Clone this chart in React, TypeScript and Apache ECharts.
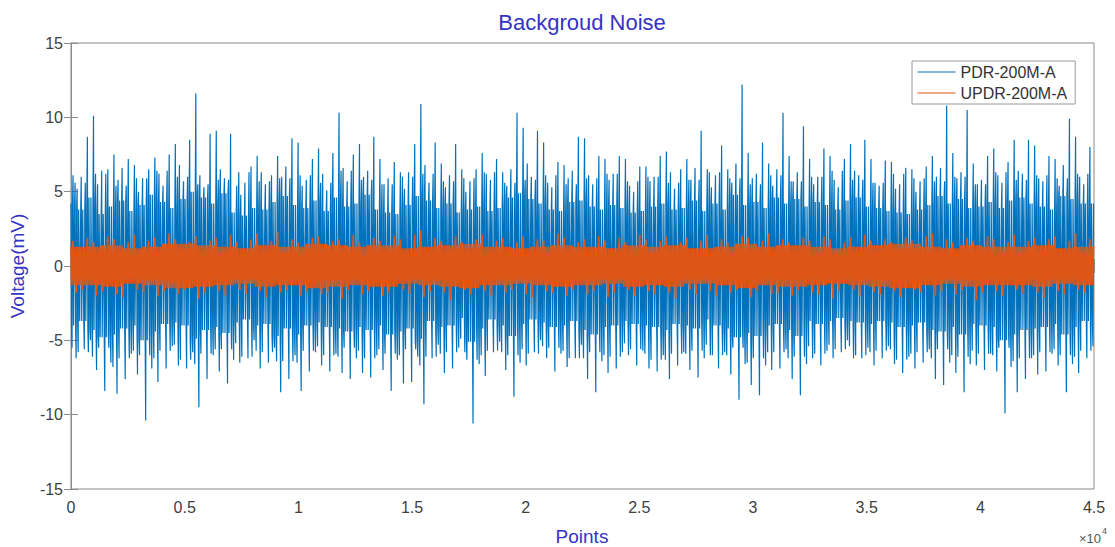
import React, { useEffect, useRef } from 'react';
import * as echarts from 'echarts';

// ---- values (x in points, y in mV) ----
const STEP = 450; // points covered by one reading
const X_MAX = 45000;

// biggest upward spike of PDR-200M-A in each 450-point slice
const blueHi = [
  6.1, 8.7, 10.1, 6.5, 7.5, 7.2, 6.8, 6.5, 7.3, 7.5,
  8.2, 8.5, 11.6, 8.9, 9.1, 8.9, 5.4, 6.7, 7.4, 6.1,
  7.4, 8.6, 8.3, 7.2, 7.9, 7.6, 10.3, 7.5, 8.2, 8.7,
  7.2, 7.0, 6.3, 8.2, 10.9, 8.3, 6.9, 8.2, 6.5, 6.5,
  7.6, 7.2, 6.3, 10.3, 9.3, 9.1, 8.3, 7.0, 6.8, 8.7,
  8.6, 7.4, 7.2, 7.4, 7.2, 6.7, 6.7, 7.4, 7.7, 6.5,
  7.2, 9.1, 6.5, 8.1, 6.5, 12.2, 7.6, 8.3, 6.9, 10.3,
  7.4, 9.4, 7.2, 7.9, 7.4, 7.2, 8.2, 8.5, 7.2, 7.1,
  7.0, 6.6, 6.5, 6.7, 7.4, 10.8, 7.6, 10.5, 6.9, 7.4,
  7.9, 7.0, 8.5, 8.5, 8.1, 7.4, 7.2, 9.9, 8.7, 8.0,
];
// deepest downward spike of PDR-200M-A in each 450-point slice
const blueLo = [
  -6.2, -5.6, -7.0, -8.4, -8.6, -7.6, -7.3, -10.4, -7.8, -6.9,
  -6.7, -6.9, -9.5, -7.6, -7.1, -7.9, -6.5, -6.2, -6.9, -6.5,
  -8.5, -7.6, -8.4, -7.1, -6.7, -7.1, -7.2, -7.6, -7.2, -7.5,
  -7.0, -8.4, -7.9, -7.8, -9.3, -6.2, -7.2, -6.9, -5.8, -10.6,
  -7.4, -5.8, -7.0, -8.8, -6.7, -5.8, -6.2, -7.1, -6.8, -6.2,
  -7.6, -8.5, -7.2, -6.9, -6.0, -6.7, -6.9, -7.1, -7.6, -6.7,
  -7.0, -7.5, -6.0, -6.9, -7.3, -9.0, -8.0, -8.7, -7.0, -6.9,
  -7.6, -8.7, -6.2, -6.7, -6.2, -5.8, -6.2, -6.2, -6.7, -6.2,
  -6.6, -7.2, -6.9, -6.5, -7.6, -8.0, -7.2, -8.5, -6.7, -7.0,
  -7.1, -9.9, -8.5, -7.6, -7.3, -7.1, -6.7, -8.5, -7.2, -6.2,
];
// second-highest / second-deepest peaks in each 450-point slice
const blueHi2 = [
  5.2, 6.0, 5.5, 6.4, 5.8, 6.6, 5.0, 5.9, 6.2, 5.4,
  6.8, 5.7, 6.1, 5.3, 6.5, 5.9, 4.8, 5.6, 6.3, 5.5,
  6.0, 6.7, 5.4, 5.8, 6.2, 5.1, 6.6, 5.7, 6.0, 6.4,
  5.5, 5.9, 5.2, 6.3, 6.8, 5.6, 5.3, 6.1, 5.0, 5.7,
  6.2, 5.8, 5.4, 6.5, 6.9, 6.0, 5.6, 5.3, 5.9, 6.4,
  6.1, 5.5, 5.8, 6.2, 5.4, 5.0, 5.7, 6.0, 6.3, 5.2,
  5.8, 6.6, 5.3, 6.1, 5.6, 6.9, 5.9, 6.2, 5.4, 6.5,
  5.7, 6.3, 5.5, 6.0, 5.8, 5.3, 6.4, 6.1, 5.6, 5.4,
  5.2, 5.5, 5.0, 5.7, 6.0, 6.6, 5.9, 6.3, 5.5, 5.8,
  6.1, 5.6, 6.4, 6.2, 5.9, 5.7, 5.4, 6.8, 6.0, 5.5,
];
const blueLo2 = [
  -5.5, -5.0, -6.1, -6.5, -6.8, -5.9, -5.7, -6.9, -6.2, -5.4,
  -5.3, -5.8, -6.6, -6.0, -5.6, -6.3, -5.2, -5.0, -5.7, -5.5,
  -6.4, -6.0, -6.5, -5.8, -5.4, -5.9, -6.1, -6.2, -5.7, -6.0,
  -5.6, -6.3, -6.0, -6.1, -6.7, -5.3, -5.9, -5.5, -4.9, -6.6,
  -6.0, -5.1, -5.8, -6.5, -5.6, -5.0, -5.4, -5.9, -5.7, -5.3,
  -6.2, -6.4, -6.0, -5.8, -5.2, -5.7, -5.9, -6.0, -6.3, -5.8,
  -5.9, -6.2, -5.3, -5.8, -6.0, -6.6, -6.5, -6.7, -5.8, -5.6,
  -6.2, -6.6, -5.4, -5.7, -5.3, -5.0, -5.4, -5.5, -5.8, -5.4,
  -5.6, -6.1, -5.9, -5.6, -6.2, -6.5, -6.0, -6.6, -5.7, -5.9,
  -6.0, -6.8, -6.4, -6.2, -6.0, -5.9, -5.6, -6.6, -6.1, -5.4,
];
// upper / lower edge of the solid dark-blue band in each 450-point slice
const blueEdgeHi = [
  4.2, 3.8, 4.6, 3.5, 4.0, 4.4, 3.7, 4.1, 4.8, 4.3,
  3.9, 4.5, 5.0, 4.6, 4.2, 4.9, 3.6, 3.4, 3.9, 3.8,
  4.3, 4.7, 4.1, 3.9, 4.4, 3.7, 4.6, 4.0, 4.2, 4.8,
  3.8, 3.6, 3.5, 4.1, 4.7, 4.4, 3.9, 4.2, 3.6, 3.8,
  4.0, 3.7, 3.9, 4.6, 4.9, 4.5, 4.2, 3.8, 3.7, 4.3,
  4.4, 4.0, 3.8, 4.1, 3.9, 3.6, 3.7, 4.0, 4.2, 3.8,
  3.9, 4.4, 3.7, 4.2, 3.8, 4.8, 4.1, 4.3, 3.9, 4.6,
  4.2, 4.5, 4.0, 4.3, 4.1, 3.8, 4.4, 4.6, 4.0, 3.9,
  3.7, 3.6, 3.5, 3.8, 4.1, 4.7, 4.2, 4.5, 3.9, 4.0,
  4.3, 3.9, 4.4, 4.6, 4.2, 4.0, 3.8, 4.7, 4.5, 4.2,
];
const blueEdgeLo = [
  -4.0, -3.7, -4.3, -4.8, -4.6, -4.2, -4.0, -5.0, -4.4, -3.9,
  -3.8, -4.0, -4.9, -4.3, -4.1, -4.5, -3.8, -3.6, -4.0, -3.9,
  -4.7, -4.2, -4.6, -4.0, -3.8, -4.1, -4.2, -4.4, -4.1, -4.3,
  -4.0, -4.6, -4.4, -4.2, -4.9, -3.7, -4.1, -4.0, -3.5, -5.1,
  -4.2, -3.6, -4.0, -4.7, -3.9, -3.6, -3.8, -4.1, -4.0, -3.7,
  -4.3, -4.6, -4.1, -4.0, -3.7, -3.9, -4.0, -4.1, -4.3, -3.9,
  -4.0, -4.2, -3.6, -4.0, -4.2, -4.8, -4.5, -4.7, -4.0, -3.9,
  -4.3, -4.7, -3.7, -3.9, -3.7, -3.5, -3.7, -3.8, -3.9, -3.7,
  -3.8, -4.1, -4.0, -3.8, -4.3, -4.4, -4.1, -4.6, -3.9, -4.0,
  -4.1, -5.0, -4.6, -4.3, -4.2, -4.1, -3.9, -4.6, -4.1, -3.7,
];
// light-blue secondary peaks, one reading per 900 points
const blueMidHi = [
  5.6, 6.2, 5.4, 5.9, 6.4, 6.0, 5.5, 5.8, 6.3, 5.7,
  5.9, 6.1, 5.6, 6.4, 5.8, 5.5, 6.0, 6.2, 5.7, 5.9,
  6.3, 5.6, 5.8, 6.1, 5.5, 5.9, 6.2, 5.7, 6.0, 5.6,
  5.8, 6.3, 5.9, 5.5, 6.1, 5.7, 6.0, 6.4, 5.8, 5.6,
  6.2, 5.9, 5.7, 6.0, 5.5, 6.3, 5.8, 6.1, 5.9, 6.2,
];
const blueMidLo = [
  -5.8, -5.5, -6.2, -6.0, -5.7, -6.3, -5.9, -5.6, -6.1, -5.8,
  -6.4, -5.7, -6.0, -5.5, -6.2, -5.9, -5.6, -6.1, -5.8, -6.3,
  -5.7, -6.0, -5.9, -5.5, -6.2, -5.8, -6.1, -5.6, -6.3, -5.9,
  -5.7, -6.0, -5.5, -6.2, -5.8, -6.1, -5.9, -5.6, -6.0, -5.7,
  -6.3, -5.8, -5.6, -6.1, -5.9, -5.5, -6.2, -5.8, -6.0, -5.7,
];
// UPDR-200M-A: peaks per 450-point slice and solid core per 1000 points
const orangeHi = [
  1.7, 1.9, 1.6, 2.0, 1.8, 1.6, 2.1, 1.7, 1.9, 2.2,
  1.8, 1.6, 2.0, 1.7, 1.9, 2.1, 1.6, 1.8, 2.2, 1.7,
  2.3, 1.8, 1.6, 1.9, 2.0, 1.7, 1.8, 2.1, 1.6, 1.9,
  1.7, 2.0, 1.8, 2.1, 2.4, 1.9, 1.7, 2.0, 1.6, 1.8,
  2.1, 1.7, 1.9, 1.6, 2.0, 1.8, 1.7, 2.2, 1.9, 1.6,
  1.8, 2.0, 1.7, 1.9, 1.6, 2.1, 1.8, 1.7, 2.0, 1.6,
  1.9, 1.7, 2.1, 1.8, 1.6, 2.0, 1.9, 1.7, 2.2, 1.8,
  1.6, 1.9, 1.7, 2.0, 1.8, 1.6, 1.9, 2.1, 1.7, 1.8,
  1.6, 1.9, 1.7, 2.0, 2.2, 1.8, 1.6, 1.9, 1.7, 2.0,
  1.8, 1.6, 2.1, 1.7, 1.9, 1.8, 2.0, 1.7, 2.2, 1.8,
];
const orangeLo = [
  -1.8, -1.6, -2.0, -1.7, -1.9, -2.1, -1.6, -1.8, -2.0, -1.7,
  -1.9, -1.6, -2.2, -1.8, -1.7, -2.0, -1.6, -1.9, -1.7, -2.1,
  -1.8, -1.6, -2.0, -1.7, -1.9, -1.8, -2.2, -1.6, -1.9, -1.7,
  -2.0, -1.8, -1.6, -1.9, -2.1, -1.7, -1.8, -2.3, -1.6, -1.9,
  -1.7, -2.0, -1.8, -1.6, -1.9, -2.1, -1.7, -1.8, -2.0, -1.6,
  -1.9, -1.7, -2.1, -1.8, -1.6, -2.0, -1.7, -1.9, -1.8, -2.2,
  -1.6, -1.9, -1.7, -2.0, -1.8, -1.6, -2.1, -1.7, -1.9, -1.8,
  -2.0, -1.6, -1.8, -1.9, -2.2, -1.7, -1.6, -2.0, -1.8, -1.9,
  -1.7, -2.1, -1.6, -1.8, -2.0, -1.7, -1.9, -1.6, -2.3, -1.8,
  -1.7, -2.0, -1.6, -1.9, -1.8, -2.1, -1.7, -1.9, -1.6, -1.8,
];
const orangeCore = [
  1.3, 1.4, 1.2, 1.3, 1.5, 1.4, 1.3, 1.2, 1.4, 1.3,
  1.5, 1.4, 1.3, 1.4, 1.2, 1.3, 1.4, 1.5, 1.3, 1.2,
  1.3, 1.4, 1.3, 1.2, 1.4, 1.3, 1.4, 1.2, 1.3, 1.5,
  1.3, 1.4, 1.3, 1.2, 1.3, 1.4, 1.5, 1.3, 1.2, 1.4,
  1.3, 1.3, 1.4, 1.2, 1.3,
];

const xTickLabels = ['0', '0.5', '1', '1.5', '2', '2.5', '3', '3.5', '4', '4.5'];
const seriesNames = ['PDR-200M-A', 'UPDR-200M-A'];

const FONT = '"Liberation Sans", Arial, Helvetica, sans-serif';
const BLUE = '#0072BD';
const ORANGE = '#DE5518';
const LABEL_BLUE = '#3434c4';

function buildBlue(): number[][] {
  const out: number[][] = [];
  const n = blueHi.length;
  for (let i = 0; i < n; i++) {
    const x0 = i * STEP;
    const up = blueEdgeHi[i];
    const dn = blueEdgeLo[i];
    const upNext = blueEdgeHi[(i + 1) % n];
    const dnNext = blueEdgeLo[(i + 1) % n];
    const mh = blueMidHi[Math.floor(i / 2)];
    const ml = blueMidLo[Math.floor(i / 2)];
    const base =
      i % 2 === 0
        ? [up, blueLo2[i], blueHi[i], dn, mh, blueLo[i], blueHi2[i], ml, upNext, dnNext]
        : [blueHi2[i], dn, up, blueLo[i], mh, dn, blueHi[i], ml, upNext, blueLo2[i]];
    // after every reading, swing back to the opposite edge of the solid band
    const vals: number[] = [];
    base.forEach((v, k) => {
      vals.push(v);
      const half = k < base.length / 2;
      vals.push(v >= 0 ? (half ? dn : dnNext) : half ? up : upNext);
    });
    vals.forEach((v, k) => out.push([x0 + (k * STEP) / vals.length, v]));
  }
  out.push([X_MAX, blueEdgeHi[n - 1]]);
  return out;
}

function buildOrange(): number[][] {
  const out: number[][] = [];
  for (let i = 0; i < orangeHi.length; i++) {
    const x0 = i * STEP;
    const c = orangeCore[Math.floor(x0 / 1000)];
    const base =
      i % 2 === 0
        ? [c, -c, orangeHi[i], -c, c, orangeLo[i], c, -c, c, -c]
        : [c, orangeLo[i], c, -c, c, -c, orangeHi[i], -c, c, -c];
    const vals: number[] = [];
    base.forEach((v) => {
      vals.push(v);
      vals.push(v >= 0 ? -c : c);
    });
    vals.forEach((v, k) => out.push([x0 + (k * STEP) / vals.length, v]));
  }
  out.push([X_MAX, orangeCore[orangeCore.length - 1]]);
  return out;
}

const axisLineStyle = { color: '#8a8a8a', width: 1 };

export default function App() {
  const ref = useRef<HTMLDivElement>(null);
  useEffect(() => {
    if (!ref.current) return;
    const chart = echarts.init(ref.current, undefined, { renderer: 'svg' });
    const option: any = {
      animation: false,
      backgroundColor: '#ffffff',
      grid: {
        left: 71,
        right: 21,
        top: 43,
        bottom: 58,
        show: true,
        borderColor: '#8a8a8a',
        borderWidth: 1,
        backgroundColor: 'transparent',
      },
      legend: {
        orient: 'vertical',
        left: 912,
        top: 61,
        padding: [3, 8, 3, 5],
        itemGap: 5,
        itemWidth: 38,
        itemHeight: 14,
        backgroundColor: '#ffffff',
        borderColor: '#9a9a9a',
        borderWidth: 1,
        itemStyle: { opacity: 0 },
        lineStyle: { width: 1 },
        textStyle: { fontSize: 16, color: '#333333', fontFamily: FONT },
        data: seriesNames,
      },
      xAxis: [
        {
          type: 'value',
          min: 0,
          max: X_MAX,
          interval: 5000,
          position: 'bottom',
          axisLine: { show: true, lineStyle: axisLineStyle },
          axisTick: { show: true, inside: true, length: 7, lineStyle: axisLineStyle },
          axisLabel: {
            show: true,
            margin: 10,
            fontSize: 16,
            color: '#404040',
            fontFamily: FONT,
            formatter: (v: number) => xTickLabels[Math.round(v / 5000)] ?? '',
          },
          splitLine: { show: false },
        },
        {
          type: 'value',
          min: 0,
          max: X_MAX,
          interval: 5000,
          position: 'top',
          axisLine: { show: true, lineStyle: axisLineStyle },
          axisTick: { show: true, inside: true, length: 7, lineStyle: axisLineStyle },
          axisLabel: { show: false },
          splitLine: { show: false },
        },
      ],
      yAxis: [
        {
          type: 'value',
          min: -15,
          max: 15,
          interval: 5,
          position: 'left',
          axisLine: { show: true, lineStyle: axisLineStyle },
          axisTick: { show: true, inside: true, length: 7, lineStyle: axisLineStyle },
          axisLabel: { show: true, margin: 8, fontSize: 16, color: '#404040', fontFamily: FONT },
          splitLine: { show: false },
        },
        {
          type: 'value',
          min: -15,
          max: 15,
          interval: 5,
          position: 'right',
          axisLine: { show: true, lineStyle: axisLineStyle },
          axisTick: { show: true, inside: true, length: 7, lineStyle: axisLineStyle },
          axisLabel: { show: false },
          splitLine: { show: false },
        },
      ],
      series: [
        {
          name: seriesNames[0],
          type: 'line',
          data: buildBlue(),
          showSymbol: false,
          symbol: 'none',
          color: BLUE,
          lineStyle: { color: BLUE, width: 1.2 },
          z: 2,
        },
        {
          name: seriesNames[1],
          type: 'line',
          data: buildOrange(),
          showSymbol: false,
          symbol: 'none',
          color: ORANGE,
          lineStyle: { color: ORANGE, width: 1.7 },
          z: 3,
        },
      ],
      graphic: [
        {
          type: 'text',
          x: 582,
          y: 22,
          style: {
            text: 'Backgroud Noise',
            fill: LABEL_BLUE,
            font: `22px ${FONT}`,
            align: 'center',
            verticalAlign: 'middle',
          },
        },
        {
          type: 'text',
          x: 17,
          y: 266,
          rotation: Math.PI / 2,
          style: {
            text: 'Voltage(mV)',
            fill: LABEL_BLUE,
            font: `19px ${FONT}`,
            align: 'center',
            verticalAlign: 'middle',
          },
        },
        {
          type: 'text',
          x: 582,
          y: 536,
          style: {
            text: 'Points',
            fill: LABEL_BLUE,
            font: `19px ${FONT}`,
            align: 'center',
            verticalAlign: 'middle',
          },
        },
        {
          type: 'text',
          x: 1101,
          y: 538,
          style: {
            text: '×10',
            fill: '#555555',
            font: `13px ${FONT}`,
            align: 'right',
            verticalAlign: 'middle',
          },
        },
        {
          type: 'text',
          x: 1102,
          y: 531,
          style: {
            text: '4',
            fill: '#555555',
            font: `9px ${FONT}`,
            align: 'left',
            verticalAlign: 'middle',
          },
        },
      ],
    };
    chart.setOption(option);
    return () => chart.dispose();
  }, []);
  return (
    <div
      ref={ref}
      style={{ position: 'fixed', left: 0, top: 0, width: 1115, height: 547, background: '#fff' }}
    />
  );
}
